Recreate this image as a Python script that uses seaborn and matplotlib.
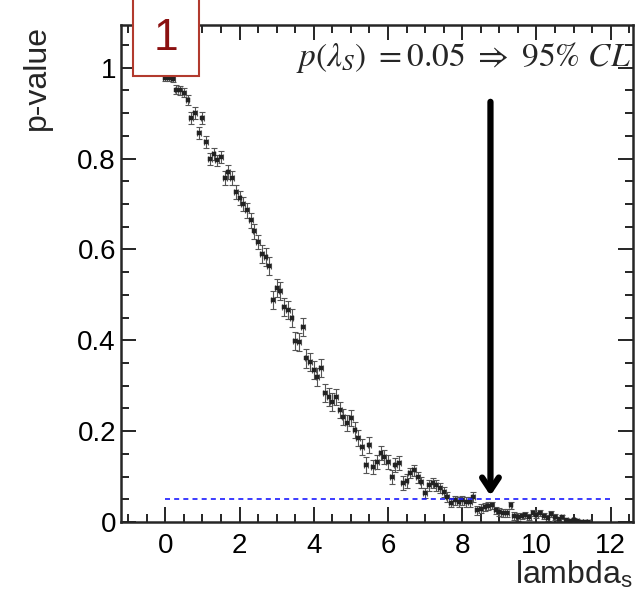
import numpy as np
import pandas as pd
import seaborn as sns
import matplotlib.pyplot as plt
from matplotlib.patches import Rectangle
from matplotlib.ticker import MultipleLocator

lam = [round(0.1 * i, 1) for i in range(115)]
pval = [0.978, 0.978, 0.976, 0.952, 0.950, 0.945, 0.928, 0.890, 0.900, 0.856,
        0.890, 0.836, 0.800, 0.810, 0.796, 0.803, 0.757, 0.770, 0.757, 0.726,
        0.713, 0.700, 0.686, 0.664, 0.640, 0.616, 0.590, 0.583, 0.563, 0.488,
        0.515, 0.508, 0.473, 0.466, 0.450, 0.398, 0.396, 0.429, 0.360, 0.352,
        0.334, 0.319, 0.339, 0.284, 0.275, 0.264, 0.275, 0.246, 0.231, 0.218,
        0.229, 0.202, 0.185, 0.165, 0.125, 0.169, 0.121, 0.132, 0.152, 0.143,
        0.132, 0.099, 0.125, 0.130, 0.086, 0.090, 0.108, 0.114, 0.099, 0.088,
        0.064, 0.081, 0.086, 0.081, 0.075, 0.066, 0.055, 0.042, 0.048, 0.044,
        0.048, 0.044, 0.044, 0.055, 0.026, 0.029, 0.033, 0.035, 0.037, 0.026,
        0.022, 0.020, 0.020, 0.037, 0.013, 0.011, 0.013, 0.015, 0.011, 0.020,
        0.015, 0.020, 0.013, 0.009, 0.018, 0.011, 0.006, 0.011, 0.004, 0.002,
        0.004, 0.002, 0.000, 0.000, 0.000]
perr = [0.008, 0.008, 0.008, 0.010, 0.010, 0.010, 0.011,
        0.013, 0.013, 0.013, 0.013, 0.013, 0.013, 0.013, 0.013, 0.013,
        0.016, 0.016, 0.016, 0.016, 0.016, 0.016, 0.016, 0.016, 0.016, 0.016,
        0.020, 0.020, 0.020, 0.020, 0.020, 0.020, 0.020, 0.020, 0.020, 0.020,
        0.020, 0.020, 0.020, 0.020, 0.020, 0.020, 0.020, 0.020, 0.020, 0.020,
        0.018, 0.018, 0.018, 0.018, 0.018, 0.018, 0.018, 0.018, 0.018, 0.018,
        0.015, 0.015, 0.015, 0.015, 0.015, 0.015, 0.015, 0.015, 0.015, 0.015,
        0.012, 0.012, 0.012, 0.012, 0.012, 0.012, 0.012, 0.012, 0.012, 0.012,
        0.010, 0.010, 0.010, 0.010, 0.010, 0.010, 0.010, 0.010, 0.010, 0.010,
        0.008, 0.008, 0.008, 0.008, 0.008, 0.008, 0.008, 0.008, 0.008, 0.008,
        0.006, 0.006, 0.006, 0.006, 0.006, 0.006, 0.006, 0.006, 0.006, 0.006,
        0.004, 0.004, 0.004, 0.004, 0.004, 0.004, 0.004, 0.004, 0.004]
cl_level = 0.05
lam_limit = 8.76

xticks = [0, 2, 4, 6, 8, 10, 12]
yticks = [0, 0.2, 0.4, 0.6, 0.8, 1]
ytick_labels = ["0", "0.2", "0.4", "0.6", "0.8", "1"]

df = pd.DataFrame({"lambda": lam, "p": pval, "err": perr})

sns.set_style("ticks")
plt.rcParams["font.family"] = ["Liberation Sans", "DejaVu Sans"]
plt.rcParams["mathtext.fontset"] = "stix"

fig = plt.figure(figsize=(6.39, 5.99), dpi=100)
ax = fig.add_axes([0.189, 0.1285, 0.8016, 0.8297])

ax.errorbar(df["lambda"], df["p"], yerr=df["err"], xerr=0.05, fmt="none",
            ecolor="#555555", elinewidth=0.8, capsize=2, capthick=0.8, zorder=2)
sns.scatterplot(data=df, x="lambda", y="p", marker="s", s=6, color="#222222",
                edgecolor="#222222", linewidth=0.3, ax=ax, zorder=3)

ax.plot([0, 12], [cl_level, cl_level], color="#1a1aff", ls=(0, (3, 2.5)), lw=1.2, zorder=4)

ax.annotate("", xy=(lam_limit, 0.058), xytext=(lam_limit, 0.925),
            arrowprops=dict(arrowstyle="->, head_length=0.9, head_width=0.6",
                            color="black", lw=4.5, shrinkA=0, shrinkB=0), zorder=5)
ax.text(12.55, 1.022, r"$p(\lambda_{S})\ = 0.05\ \Rightarrow\ 95\%\ CL$",
        ha="right", va="center", fontsize=24, zorder=6)

ax.set_xlim(-1.2, 12.6)
ax.set_ylim(0, 1.094)
ax.set_xticks(xticks)
ax.set_yticks(yticks)
ax.set_yticklabels(ytick_labels)
ax.xaxis.set_minor_locator(MultipleLocator(0.5))
ax.yaxis.set_minor_locator(MultipleLocator(0.05))
ax.tick_params(which="both", direction="in", top=True, right=True, width=1.2,
               labelsize=20, colors="black")
ax.tick_params(which="major", length=11)
ax.tick_params(which="minor", length=6)
ax.tick_params(axis="x", pad=8)
for s in ax.spines.values():
    s.set_linewidth(1.8)

ax.set_xlabel(r"lambda$_\mathregular{s}$", fontsize=23, loc="right", labelpad=0)
ax.set_ylabel("p-value", fontsize=23, loc="top", labelpad=18)

# slide number box
fig.patches.append(Rectangle((133 / 639, 1 - 76 / 599), 66 / 639, 80 / 599,
                             transform=fig.transFigure, facecolor="white",
                             edgecolor="#b23a2e", lw=1.5, zorder=10))
fig.text(166 / 639, 1 - 38 / 599, "1", ha="center", va="center", fontsize=32,
         color="#8b1010", zorder=11)

fig.savefig("out.png", dpi=100)
